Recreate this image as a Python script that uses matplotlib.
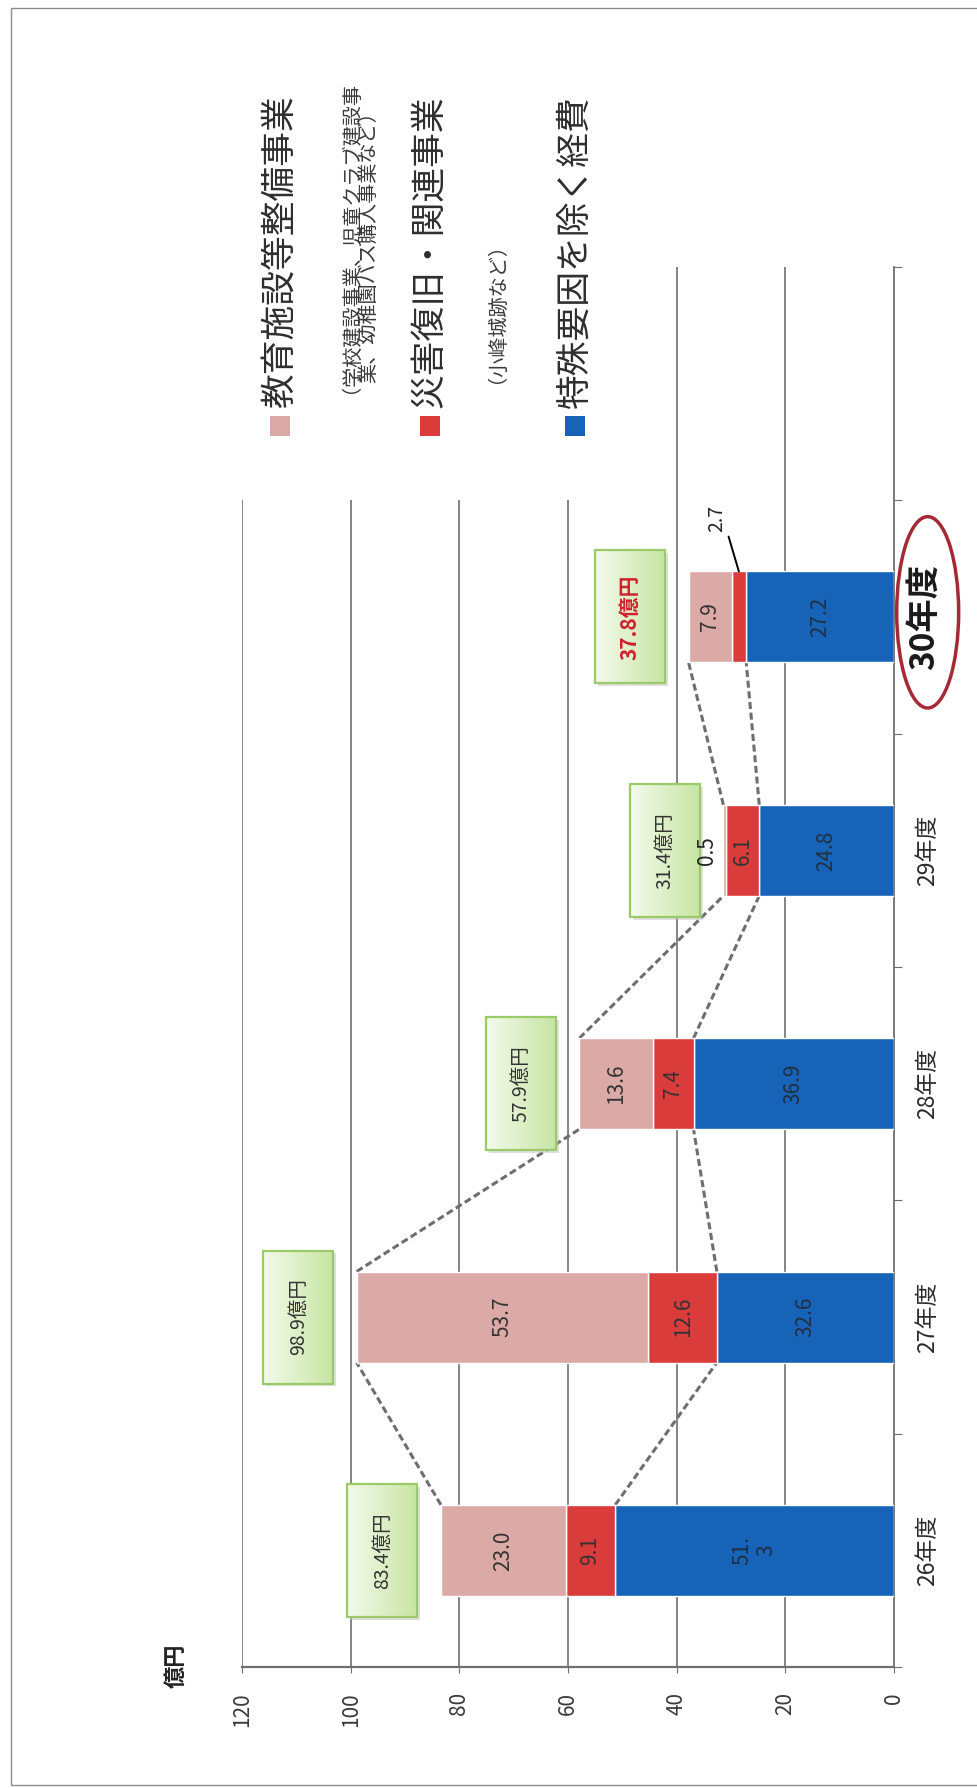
import numpy as np
import matplotlib
matplotlib.use("Agg")
import matplotlib.pyplot as plt
from matplotlib.colors import to_rgb
from matplotlib.patches import Rectangle, Ellipse

plt.rcParams["font.family"] = ["Noto Sans CJK JP", "DejaVu Sans"]

# -----------------------------
# データ（億円）
# -----------------------------
years = ["26年度", "27年度", "28年度", "29年度", "30年度"]
general = [51.3, 32.6, 36.9, 24.8, 27.2]      # 特殊要因を除く経費
disaster = [9.1, 12.6, 7.4, 6.1, 2.7]         # 災害復旧・関連事業
education = [23.0, 53.7, 13.6, 0.5, 7.9]      # 教育施設等整備事業
totals = [83.4, 98.9, 57.9, 31.4, 37.8]
general_labels = ["51.\n3", "32.6", "36.9", "24.8", "27.2"]

legend_names = ["教育施設等整備事業", "災害復旧・関連事業", "特殊要因を除く経費"]
legend_notes = [["（学校建設事業、児童クラブ建設事", "業、幼稚園バス購入事業など）"],
                ["（小峰城跡など）"], []]
value_ticks = [0, 20, 40, 60, 80, 100, 120]

C_BLUE = "#1763b8"
C_RED = "#da3b3b"
C_PINK = "#dcaaa6"
C_GRID = "#6f6f6f"
C_TEXT = "#333333"

W, H = 977, 1788
fig = plt.figure(figsize=(W / 100, H / 100), dpi=100)
fig.patch.set_facecolor("white")
ax = fig.add_axes([242 / W, 121 / H, 652 / W, 1400 / H])

y = np.arange(len(years))
bar_h = 0.39
general = np.array(general)
disaster = np.array(disaster)
education = np.array(education)

# 縦向き（90度回転）の積み上げ棒
ax.barh(y, general, height=bar_h, color=C_BLUE, edgecolor="white", linewidth=1, zorder=3)
ax.barh(y, disaster, left=general, height=bar_h, color=C_RED, edgecolor="white", linewidth=1, zorder=3)
ax.barh(y, education, left=general + disaster, height=bar_h, color=C_PINK,
        edgecolor="white", linewidth=1, zorder=3)

# 目盛線（凡例の裏は短くなる）
for v in value_ticks[1:]:
    top = 5.5 if v <= 40 else 4.5
    ax.vlines(v, -0.5, top, color=C_GRID, linewidth=1.2, zorder=1)

# 棒の中の数値
for i in range(len(years)):
    ax.text(general[i] / 2, i, general_labels[i], rotation=90, ha="center", va="center",
            fontsize=15, color="#22303f", zorder=6, linespacing=1.1)
    r_mid = general[i] + disaster[i] / 2
    if disaster[i] < 3:
        ax.annotate(f"{disaster[i]:.1f}", xy=(r_mid, i + bar_h / 2), xytext=(32.6, i + 0.42),
                    rotation=90, ha="center", va="center", fontsize=14, color="#222222",
                    arrowprops=dict(arrowstyle="-", color="black", lw=1.4,
                                    relpos=(1.0, 0.0), shrinkA=1, shrinkB=0),
                    zorder=6)
    else:
        ax.text(r_mid, i, f"{disaster[i]:.1f}", rotation=90, ha="center", va="center",
                fontsize=15, color=C_TEXT, zorder=6)
    if education[i] < 1:
        ax.text(totals[i] + 3.0, i, f"{education[i]:.1f}", rotation=90, ha="center",
                va="center", fontsize=15, color="#222222", zorder=6)
    else:
        p_mid = general[i] + disaster[i] + education[i] / 2
        ax.text(p_mid, i, f"{education[i]:.1f}", rotation=90, ha="center", va="center",
                fontsize=15, color=C_TEXT, zorder=6)

# 年度間の破線
for i in range(len(years) - 1):
    for a, b in ((totals[i], totals[i + 1]), (general[i], general[i + 1])):
        ax.plot([a, b], [i + bar_h / 2, i + 1 - bar_h / 2], color="#6e6e6e", lw=2.2,
                linestyle=(0, (2.3, 1.2)), zorder=2)

# 合計の吹き出し（グラデーションの箱）
c0 = np.array(to_rgb("#f4faec"))
c1 = np.array(to_rgb("#c6e5a2"))
grad = c0 + (c1 - c0) * np.linspace(0, 1, 64)[None, :, None]
box_w, box_h, gap = 12.9, 0.57, 4.3
for i, tot in enumerate(totals):
    xr = tot + gap
    xl = xr + box_w
    ax.add_patch(Rectangle((xr - 0.5, i - box_h / 2 - 0.012), box_w, box_h,
                           facecolor="#b9b9b9", edgecolor="none", alpha=0.45, zorder=4))
    ax.imshow(grad, extent=(xl, xr, i - box_h / 2, i + box_h / 2), aspect="auto",
              interpolation="bilinear", zorder=4.5)
    ax.add_patch(Rectangle((xr, i - box_h / 2), box_w, box_h, fill=False,
                           edgecolor="#9bcb68", linewidth=1.6, zorder=5))
    last = i == len(totals) - 1
    ax.text((xl + xr) / 2, i, f"{tot:.1f}億円", rotation=90, ha="center", va="center",
            fontsize=15 if last else 14, fontweight="bold" if last else "normal",
            color="#d0202e" if last else C_TEXT, zorder=6)

ax.set_xlim(120, 0)
ax.set_ylim(-0.5, 5.5)
ax.set_facecolor("none")

# 軸
for s in ("top", "left"):
    ax.spines[s].set_visible(False)
ax.spines["right"].set_color(C_GRID)
ax.spines["right"].set_linewidth(1.3)
ax.spines["bottom"].set_color(C_GRID)
ax.spines["bottom"].set_linewidth(1.6)

ax.set_xticks(value_ticks, labels=[str(v) for v in value_ticks])
ax.tick_params(axis="x", labelrotation=90, labelsize=15, labelcolor="#3a3a3a",
               direction="out", length=4, color=C_GRID, pad=14)
ax.yaxis.set_ticks_position("right")
ax.set_yticks(np.arange(-0.5, 6.0, 1.0))
ax.tick_params(axis="y", direction="out", length=6, color=C_GRID,
               labelright=False, labelleft=False)

# 年度ラベル
for i, name in enumerate(years):
    if i == len(years) - 1:
        ax.text(-5.6, i, name, rotation=90, ha="center", va="center", fontsize=24,
                fontweight="bold", color="#1a1a1a", clip_on=False)
    else:
        ax.text(-6.1, i, name, rotation=90, ha="center", va="center", fontsize=16.5,
                color="#2a2a2a", clip_on=False)
ax.add_patch(Ellipse((-6.2, 4.02), width=11.4, height=0.82, fill=False,
                     edgecolor="#a52a35", linewidth=2.5, clip_on=False, zorder=5))

# 単位
fig.text(176 / W, 1 - 1666 / H, "億円", rotation=90, ha="center", va="center",
         fontsize=16, fontweight="bold", color="#222222")

# 凡例（回転した文字は書き出し位置を基準に置く）
legend_colors = [C_PINK, C_RED, C_BLUE]
legend_x = [280, 430, 575]
note_x = [[340, 369], [486], []]
note_y = [[393, 383], [383], []]
for name, notes, col, lx, nxs, nys in zip(legend_names, legend_notes, legend_colors,
                                          legend_x, note_x, note_y):
    fig.patches.append(Rectangle(((lx - 10) / W, 1 - 436 / H), 20 / W, 20 / H,
                                 transform=fig.transFigure, facecolor=col, edgecolor="none"))
    fig.text(lx / W, 1 - 408 / H, name, rotation=90, rotation_mode="anchor",
             ha="left", va="center", fontsize=25, color="#2e2e2e")
    for note, nx, ny in zip(notes, nxs, nys):
        fig.text(nx / W, 1 - ny / H, note, rotation=90, rotation_mode="anchor",
                 ha="left", va="center", fontsize=14.5, color="#3a3a3a")

# 外枠
fig.patches.append(Rectangle((11 / W, 1 - 1785 / H), 990 / W, 1777 / H,
                             transform=fig.transFigure, fill=False,
                             edgecolor="#8c8c8c", linewidth=1))

fig.savefig("out.png", dpi=100, facecolor="white")
